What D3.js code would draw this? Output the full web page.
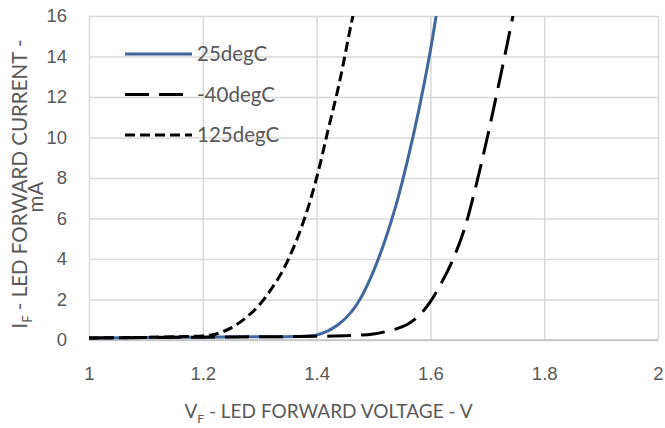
<!DOCTYPE html>
<html>
<head>
<meta charset="utf-8">
<script src="https://cdn.jsdelivr.net/npm/d3@7"></script>
<style>
  body { margin: 0; background: white; }
  svg { font-family: Lato, "Open Sans", sans-serif; }
  .tick text { fill: #595959; font-size: 18.5px; }
  .title { fill: #595959; font-size: 19px; }
  .legend text { fill: #595959; font-size: 20.5px; }
</style>
</head>
<body>
<svg width="665" height="428"></svg>
<script>
// forward voltage (V) and current (mA)
var v25 = [1.0, 1.1, 1.2, 1.3, 1.38, 1.40, 1.42, 1.44, 1.46, 1.48, 1.50, 1.52, 1.54, 1.56, 1.58, 1.60, 1.61]
var i25 = [0.1, 0.12, 0.14, 0.16, 0.18, 0.25, 0.45, 0.8, 1.35, 2.2, 3.4, 4.9, 6.7, 8.9, 11.4, 14.3, 16.0]

var v40 = [1.0, 1.1, 1.2, 1.3, 1.4, 1.46, 1.50, 1.54, 1.56, 1.58, 1.60, 1.62, 1.64, 1.66, 1.68, 1.70, 1.72, 1.74, 1.75]
var i40 = [0.1, 0.12, 0.14, 0.16, 0.18, 0.22, 0.3, 0.55, 0.78, 1.2, 1.9, 2.85, 4.0, 5.5, 7.6, 10.0, 12.6, 15.3, 16.7]

var v125 = [1.0, 1.1, 1.15, 1.2, 1.22, 1.25, 1.28, 1.30, 1.32, 1.34, 1.36, 1.38, 1.40, 1.42, 1.44, 1.46, 1.47]
var i125 = [0.1, 0.13, 0.16, 0.2, 0.27, 0.6, 1.2, 1.75, 2.5, 3.4, 4.6, 6.1, 8.0, 10.35, 12.7, 15.5, 16.8]

var xTicks = [1, 1.2, 1.4, 1.6, 1.8, 2]
var yTicks = [0, 2, 4, 6, 8, 10, 12, 14, 16]

var seriesNames = ["25degC", "-40degC", "125degC"]

var
  svg = d3.select("svg"),
  margin = { top: 16, right: 7, bottom: 88, left: 89 },
  width = +svg.attr("width") - margin.left - margin.right,
  height = +svg.attr("height") - margin.top - margin.bottom,
  group = svg.append("g").attr("transform", `translate(${margin.left},${margin.top})`)

var
  volt = d3.scaleLinear().domain([1, 2]).range([0, width]),
  amps = d3.scaleLinear().domain([0, 16]).range([height, 0])

var zip = (xs, ys) => xs.map((x, i) => ({ v: x, i: ys[i] }))

var series = [
  { name: seriesNames[0], data: zip(v25, i25), color: "#41679c", dash: null },
  { name: seriesNames[1], data: zip(v40, i40), color: "#000", dash: "24,10" },
  { name: seriesNames[2], data: zip(v125, i125), color: "#000", dash: "10,5" }
]

// gridlines
group.append("g")
  .call(d3.axisLeft(amps).tickValues(yTicks).tickSize(-width).tickFormat(""))
  .call(g => g.select(".domain").remove())
  .selectAll("line").attr("stroke", "#d9d9d9").attr("stroke-width", 1.5)

group.append("g")
  .attr("transform", `translate(0,${height})`)
  .call(d3.axisBottom(volt).tickValues(xTicks).tickSize(-height).tickFormat(""))
  .call(g => g.select(".domain").remove())
  .selectAll("line").attr("stroke", "#d9d9d9").attr("stroke-width", 1.5)

// tick labels
group.append("g")
  .call(d3.axisLeft(amps).tickValues(yTicks).tickSize(0).tickPadding(22))
  .call(g => g.select(".domain").remove())

group.append("g")
  .attr("transform", `translate(0,${height})`)
  .call(d3.axisBottom(volt).tickValues(xTicks).tickSize(0).tickPadding(27).tickFormat(d3.format("")))
  .call(g => g.select(".domain").remove())

// bottom axis line
group.append("line")
  .attr("x1", 0).attr("x2", width)
  .attr("y1", height).attr("y2", height)
  .attr("stroke", "#bfbfbf").attr("stroke-width", 1.5)

group.append("clipPath").attr("id", "plot")
  .append("rect").attr("width", width).attr("height", height)

var line = d3.line()
  .x(d => volt(d.v))
  .y(d => amps(d.i))
  .curve(d3.curveCatmullRom.alpha(0.5))

group.append("g").attr("clip-path", "url(#plot)")
  .selectAll("path").data(series).join("path")
  .attr("d", d => line(d.data))
  .attr("fill", "none")
  .attr("stroke", d => d.color)
  .attr("stroke-width", 3)
  .attr("stroke-dasharray", d => d.dash)

// legend
var legend = svg.append("g").attr("class", "legend").attr("transform", "translate(125,54)")
var item = legend.selectAll("g").data(series).join("g")
  .attr("transform", (d, k) => `translate(0,${k * 40.5})`)
item.append("line")
  .attr("x1", 0).attr("x2", 67)
  .attr("stroke", d => d.color)
  .attr("stroke-width", 3)
  .attr("stroke-dasharray", d => d.dash)
item.append("text")
  .attr("x", 72).attr("dy", "0.35em")
  .text(d => d.name)

// axis titles
var xt = svg.append("text").attr("class", "title")
  .attr("x", margin.left + width / 2 - 45).attr("y", 418)
  .style("text-anchor", "middle")
xt.append("tspan").text("V")
xt.append("tspan").attr("dy", 5).style("font-size", "12px").text("F")
xt.append("tspan").attr("dy", -5).text(" - LED FORWARD VOLTAGE - V")

var yt = svg.append("text").attr("class", "title")
  .attr("transform", "translate(27,184) rotate(-90)")
  .style("text-anchor", "middle")
  .style("font-size", "20.5px")
yt.append("tspan").text("I")
yt.append("tspan").attr("dy", 5).style("font-size", "13px").text("F")
yt.append("tspan").attr("dy", -5).text(" - LED FORWARD CURRENT -")

svg.append("text").attr("class", "title")
  .attr("transform", "translate(43,197) rotate(-90)")
  .style("text-anchor", "middle")
  .style("font-size", "20.5px")
  .text("mA")
</script>
</body>
</html>
